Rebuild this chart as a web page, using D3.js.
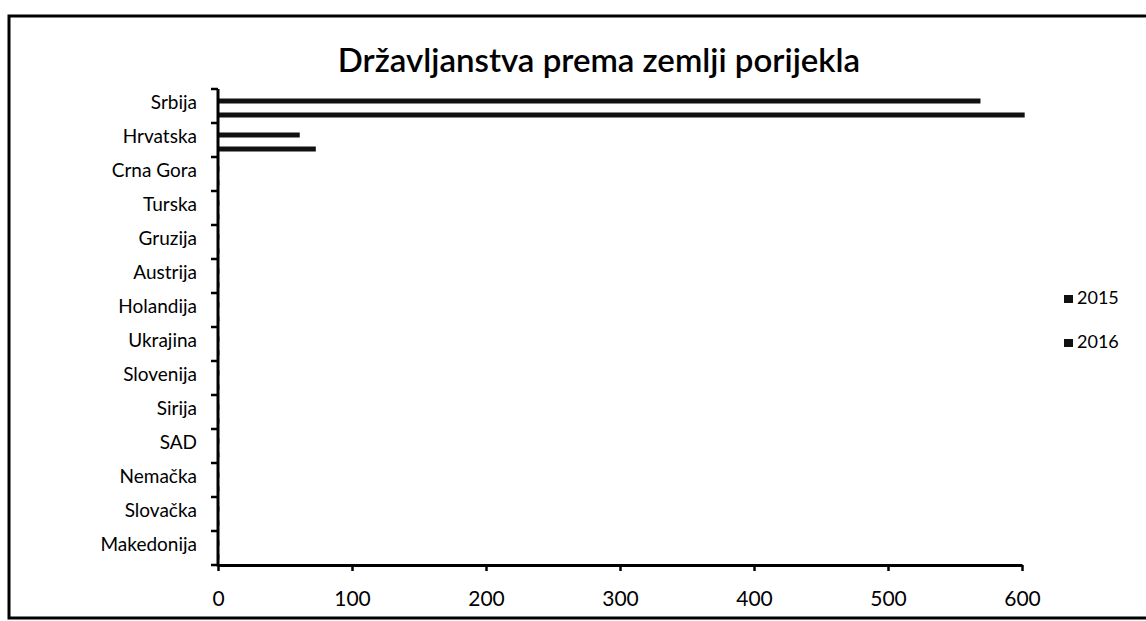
<!DOCTYPE html>
<html>
<head>
<meta charset="utf-8">
<script src="https://cdn.jsdelivr.net/npm/d3@7"></script>
<style>
  html, body { margin: 0; padding: 0; background: #fff; }
  svg { display: block; }
  text { font-family: Lato, "Open Sans", sans-serif; fill: #000; }
</style>
</head>
<body>
<svg id="chart" width="1146" height="621"></svg>
<script>
// Citizenship counts by country of origin
const countries = ["Srbija", "Hrvatska", "Crna Gora", "Turska", "Gruzija", "Austrija",
  "Holandija", "Ukrajina", "Slovenija", "Sirija", "SAD", "Nemačka", "Slovačka", "Makedonija"];
const years = ["2015", "2016"];
const values2015 = [569, 61, 1, 1, 1, 1, 1, 1, 1, 1, 1, 1, 1, 1];
const values2016 = [602, 73, 1, 1, 1, 1, 1, 1, 1, 1, 1, 1, 1, 1];
const xTicks = [0, 100, 200, 300, 400, 500, 600];
const title = "Državljanstva prema zemlji porijekla";

const series = [values2015, values2016];
const svg = d3.select("#chart");

// outer frame
svg.append("path")
  .attr("d", "M1146,16 L9,16 L9,618 L1146,618")
  .attr("fill", "none").attr("stroke", "#000").attr("stroke-width", 3);

const x = d3.scaleLinear().domain([0, 600]).range([218, 1022]);
const y = d3.scaleBand().domain(countries).range([89, 565]);
const yInner = d3.scaleBand().domain(years).range([5, y.bandwidth() - 1]);

svg.append("text")
  .attr("x", 599).attr("y", 72)
  .attr("text-anchor", "middle")
  .attr("font-size", 33)
  .attr("font-weight", 600)
  .text(title);

// bars
const groups = svg.append("g").selectAll("g")
  .data(countries)
  .join("g")
  .attr("transform", d => `translate(0,${y(d)})`);

groups.selectAll("rect")
  .data((d, i) => years.map((yr, k) => ({ yr, v: series[k][i] })))
  .join("rect")
  .attr("x", x(0))
  .attr("y", d => yInner(d.yr) + yInner.bandwidth() / 2 - 2.5)
  .attr("width", d => x(d.v) - x(0))
  .attr("height", 5)
  .attr("fill", "#111");

// x axis
const xAxis = svg.append("g")
  .attr("transform", "translate(0,565)")
  .call(d3.axisBottom(x).tickValues(xTicks).tickSize(6).tickPadding(20).tickSizeOuter(0));
xAxis.select(".domain").attr("stroke-width", 3);
xAxis.selectAll(".tick line").attr("stroke-width", 2.5);
xAxis.selectAll(".tick text").attr("font-size", 21).attr("font-family", "Lato, sans-serif");

// y axis with ticks between categories
const yAxisG = svg.append("g");
yAxisG.append("line")
  .attr("x1", 218).attr("x2", 218)
  .attr("y1", y.range()[0]).attr("y2", y.range()[1] + 1.5)
  .attr("stroke", "#000").attr("stroke-width", 3);
const boundaries = countries.map(c => y(c)).concat([y.range()[1]]);
yAxisG.selectAll("line.tk")
  .data(boundaries)
  .join("line")
  .attr("class", "tk")
  .attr("x1", 211).attr("x2", 218)
  .attr("y1", d => d).attr("y2", d => d)
  .attr("stroke", "#000").attr("stroke-width", 2.5);
yAxisG.selectAll("text")
  .data(countries)
  .join("text")
  .attr("x", 197)
  .attr("y", d => y(d) + y.bandwidth() / 2 - 2)
  .attr("text-anchor", "end")
  .attr("dominant-baseline", "middle")
  .attr("font-size", 19)
  .text(d => d);

// legend
const legend = svg.append("g").selectAll("g")
  .data(years)
  .join("g")
  .attr("transform", (d, i) => `translate(1064,${299 + i * 44})`);
legend.append("rect")
  .attr("x", 0).attr("y", -4).attr("width", 9).attr("height", 8)
  .attr("fill", "#111");
legend.append("text")
  .attr("x", 13).attr("y", 0)
  .attr("dominant-baseline", "middle")
  .attr("font-size", 18)
  .text(d => d);
</script>
</body>
</html>
